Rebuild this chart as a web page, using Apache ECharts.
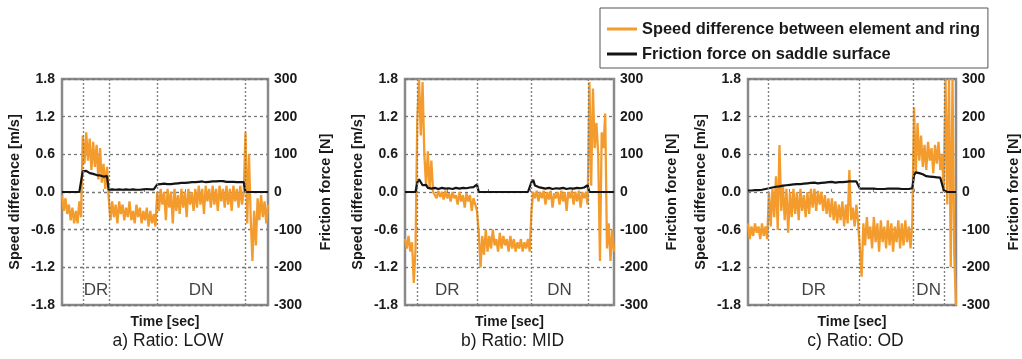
<!DOCTYPE html>
<html>
<head>
<meta charset="utf-8">
<script src="https://cdn.jsdelivr.net/npm/echarts@6/dist/echarts.min.js"></script>
<style>html,body{margin:0;padding:0;background:#fff}#chart{width:1022px;height:359px}</style>
</head>
<body>
<div id="chart"></div>
<script>
// ---------------- DATA ----------------
const seriesNames = ['Speed difference between element and ring', 'Friction force on saddle surface'];
const panelCaptions = ['a) Ratio: LOW', 'b) Ratio: MID', 'c) Ratio: OD'];
const phaseNames = ['DR', 'DN'];
const speedRange = [-1.8, 1.8, 0.6];     // m/s  (min, max, step)
const forceRange = [-300, 300, 100];     // N    (min, max, step)
const timeRange = [0, 119];              // sample index
const phaseLabelLevel = -1.57;           // m/s

// speed difference [m/s], one value per sample
const speedLow = [
 -0.05,-0.3,-0.1,-0.35,-0.2,-0.45,-0.25,-0.5,-0.3,-0.5,-0.15,-0.4,
 0.9,0.45,0.95,0.5,0.85,0.35,0.8,0.4,0.75,0.2,0.7,0.15,0.45,0.05,0.4,
 -0.1,-0.45,-0.15,-0.4,-0.2,-0.5,-0.15,-0.35,-0.2,-0.45,-0.25,-0.4,-0.15,-0.45,-0.3,-0.5,-0.2,-0.4,-0.25,-0.5,-0.3,-0.45,-0.25,-0.55,-0.3,-0.5,-0.35,-0.55,
 0.0,-0.3,0.05,-0.2,0.0,-0.45,0.05,-0.25,0.0,-0.5,0.05,-0.3,-0.05,-0.35,0.05,-0.25,0.0,-0.4,0.05,-0.2,0.0,-0.3,0.05,-0.25,0.1,-0.2,0.05,-0.35,0.1,-0.15,
 0.05,-0.25,0.1,-0.2,0.05,-0.3,0.1,-0.15,0.05,-0.25,0.1,-0.2,0.05,-0.3,0.1,-0.15,0.05,-0.25,0.1,-0.2,0.0,
 0.95,-0.5,0.6,-0.4,-1.1,-0.3,-0.85,-0.1,-0.45,-0.05,-0.4,-0.15,-0.5,-0.2
];
const speedMid = [
 -0.75,-0.9,-0.7,-0.95,-0.8,-1.45,-0.9,1.15,1.8,0.9,1.75,0.6,0.1,0.65,0.05,0.5,0.0,
 0.0,-0.1,0.02,-0.08,0.0,-0.12,0.02,-0.1,-0.02,-0.15,0.0,-0.1,-0.05,-0.2,0.0,-0.15,-0.05,-0.25,-0.02,-0.15,-0.05,-0.3,-0.1,-0.2,-0.3,
 -0.65,-1.2,-0.7,-1.0,-0.6,-0.95,-0.7,-0.9,-0.6,-0.85,-0.75,-0.95,-0.65,-0.9,-0.7,-0.85,-0.75,-0.95,-0.7,-0.9,-0.75,-0.95,-0.8,-0.9,-0.75,-0.95,-0.8,-0.9,-0.75,-0.95,
 -0.3,0.0,-0.1,0.02,-0.15,0.0,-0.1,0.02,-0.2,0.0,-0.12,0.02,-0.25,-0.02,-0.1,0.0,-0.2,0.02,-0.15,0.0,-0.3,0.0,-0.1,0.02,-0.2,0.0,-0.15,0.02,-0.25,0.0,-0.1,0.0,-0.2,
 1.75,0.1,1.65,0.7,1.1,0.6,-1.1,0.95,0.7,1.25,-0.9,-0.5,-1.1,-0.6,-0.95
];
const speedOd = [
 -0.5,-0.75,-0.55,-0.7,-0.5,-0.65,-0.55,-0.75,-0.5,-0.7,-0.55,-0.75,
 0.0,-0.55,0.05,-0.4,0.25,-0.6,0.75,-0.3,0.1,-0.45,0.05,-0.65,0.0,-0.4,0.05,-0.35,0.0,-0.45,0.05,-0.3,-0.05,-0.4,0.0,-0.35,0.05,-0.25,0.05,-0.3,
 0.02,-0.2,0.0,-0.3,-0.05,-0.35,-0.1,-0.4,-0.1,-0.45,-0.15,-0.5,-0.2,-0.45,-0.15,-0.55,-0.2,-0.5,0.35,-0.45,-0.25,-0.55,-0.2,-0.5,
 -0.9,-1.35,-0.5,-0.85,-0.4,-0.75,-0.55,-0.9,-0.4,-0.8,-0.5,-0.95,-0.45,-0.8,-0.55,-0.9,-0.45,-0.85,-0.5,-0.95,-0.55,-0.8,-0.45,-0.9,-0.5,-0.85,-0.45,-0.8,-0.55,-0.9,-0.5,
 1.35,0.3,1.1,0.5,0.9,0.4,0.75,0.35,0.8,0.5,0.7,0.3,0.75,0.45,0.8,0.35,0.6,
 0.0,1.8,-0.2,1.8,-1.2,1.8,-1.0,-1.8
];

// friction force [N], one value per sample
const frictionLow = [
 0,0,0,0,0,0,0,0,0,0,0,0,
 55,50,56,52,50,53,48,50,45,47,44,46,41,43,42,
 6,4,7,5,6,5,7,4,6,5,7,5,6,6,7,5,6,7,6,5,7,6,8,6,7,8,7,8,
 20,18,21,19,22,20,21,22,21,23,22,24,23,22,24,25,24,26,25,24,26,27,26,25,27,26,28,27,26,28,
 27,29,28,27,28,30,29,28,29,28,27,28,27,26,27,28,26,27,26,25,26,
 0,0,0,0,0,0,0,0,0,0,0,0,0,0
];
const frictionMid = [
 0,0,0,0,0,0,0,
 25,34,26,18,13,19,11,16,9,14,11,16,8,13,11,15,9,12,10,14,8,13,11,15,9,12,11,14,10,13,12,16,13,18,20,
 0,0,0,0,0,0,0,0,0,0,0,0,0,0,0,0,0,0,0,0,0,0,0,0,0,0,0,0,0,0,
 26,32,17,22,13,18,11,15,9,14,11,16,8,13,10,15,9,12,11,14,8,13,10,15,9,12,11,14,10,13,12,16,18,
 0,0,0,0,0,0,0,0,0,0,0,0,0,0,0
];
const frictionOd = [
 4,5,4,5,5,6,5,6,6,7,8,9,
 10,13,12,15,14,17,15,18,17,19,18,20,19,21,20,22,21,22,21,23,22,24,23,22,24,23,25,24,23,25,
 24,26,25,24,26,25,27,26,25,27,26,27,26,28,27,26,28,27,28,27,28,26,
 9,8,9,8,9,8,9,8,9,9,8,9,8,9,8,9,9,8,9,8,9,8,9,9,8,9,8,9,8,9,10,
 45,52,55,50,53,47,45,42,40,41,38,40,37,39,36,38,35,
 5,0,0,0,0,0,0,0
];

// phase boundaries (sample index)
const boundariesLow = [12.1, 27.1, 54.9, 105.7];
const boundariesMid = [6.7, 41.4, 71.6, 104.4];
const boundariesOd = [11.4, 63.9, 94.7, 112.0];

// ---------------- CHART ----------------
const FONT = '"Liberation Sans", Arial, Helvetica, sans-serif';
const ORANGE = '#F39C2D';
const BLACK = '#141414';
const TEXT = '#1a1a1a';

const panels = [
  {speed: speedLow, force: frictionLow, bounds: boundariesLow, caption: panelCaptions[0], left: 62, width: 206},
  {speed: speedMid, force: frictionMid, bounds: boundariesMid, caption: panelCaptions[1], left: 405, width: 209},
  {speed: speedOd, force: frictionOd, bounds: boundariesOd, caption: panelCaptions[2], left: 748, width: 209}
];
const TOP = 79, HEIGHT = 226;

const grid = [], xAxis = [], yAxis = [], series = [], graphic = [];

panels.forEach((p, i) => {
  grid.push({left: p.left, top: TOP, width: p.width, height: HEIGHT, show: true,
    borderColor: '#8a8a8a', borderWidth: 2.5, backgroundColor: 'rgba(0,0,0,0)', containLabel: false});
  xAxis.push({gridIndex: i, type: 'value', min: timeRange[0], max: timeRange[1],
    interval: (timeRange[1] - timeRange[0]) / 5,
    name: 'Time [sec]', nameLocation: 'middle', nameGap: 10,
    nameTextStyle: {fontFamily: FONT, fontSize: 14, fontWeight: 'bold', color: TEXT},
    axisLine: {show: false}, axisLabel: {show: false},
    axisTick: {show: true, inside: true, length: 3, lineStyle: {color: '#888', width: 1}},
    splitLine: {show: false}});
  yAxis.push({gridIndex: i, type: 'value', position: 'left',
    min: speedRange[0], max: speedRange[1], interval: speedRange[2],
    name: 'Speed difference [m/s]', nameLocation: 'middle', nameRotate: 90, nameGap: 40,
    nameTextStyle: {fontFamily: FONT, fontSize: 14.5, fontWeight: 'bold', color: TEXT},
    axisLine: {show: false}, axisTick: {show: false},
    axisLabel: {fontFamily: FONT, fontSize: 14, fontWeight: 'bold', color: TEXT, margin: 7,
      formatter: v => (Math.abs(v) < 1e-9 ? 0 : v).toFixed(1)},
    splitLine: {show: true, lineStyle: {color: '#777', type: [3, 3], width: 1.3}}});
  yAxis.push({gridIndex: i, type: 'value', position: 'right',
    min: forceRange[0], max: forceRange[1], interval: forceRange[2],
    name: 'Friction force [N]', nameLocation: 'middle', nameRotate: 90, nameGap: 50,
    nameTextStyle: {fontFamily: FONT, fontSize: 14.5, fontWeight: 'bold', color: TEXT},
    axisLine: {show: false}, axisTick: {show: false},
    axisLabel: {fontFamily: FONT, fontSize: 14, fontWeight: 'bold', color: TEXT, margin: 6,
      formatter: v => String(Math.round(v))},
    splitLine: {show: false}});

  // phase labels + boundaries
  const b = p.bounds;
  series.push({type: 'scatter', xAxisIndex: i, yAxisIndex: 2 * i, symbolSize: 0, silent: true, z: 1,
    data: [[(b[0] + b[1]) / 2, phaseLabelLevel, phaseNames[0]], [(b[2] + b[3]) / 2, phaseLabelLevel, phaseNames[1]]],
    label: {show: true, position: 'inside', formatter: d => d.data[2],
      fontFamily: FONT, fontSize: 17, color: '#111'},
    markLine: {silent: true, symbol: 'none', animation: false,
      label: {show: false}, lineStyle: {color: '#808080', type: [2, 2], width: 1.4},
      data: b.map(v => ({xAxis: v}))}});
  series.push({type: 'line', name: seriesNames[0], xAxisIndex: i, yAxisIndex: 2 * i, z: 2,
    data: p.speed.map((v, k) => [k, v]), symbol: 'none', showSymbol: false,
    lineStyle: {color: ORANGE, width: 2.3}, itemStyle: {color: ORANGE}});
  series.push({type: 'line', name: seriesNames[1], xAxisIndex: i, yAxisIndex: 2 * i + 1, z: 3,
    data: p.force.map((v, k) => [k, v]), symbol: 'none', showSymbol: false,
    lineStyle: {color: BLACK, width: 2.2}, itemStyle: {color: BLACK}});

  graphic.push({type: 'text', x: p.left + p.width / 2 + 3, y: 341,
    style: {text: p.caption, fontFamily: FONT, fontSize: 17.5, fill: TEXT,
      textAlign: 'center', textVerticalAlign: 'middle'}});
});

const chart = echarts.init(document.getElementById('chart'), null, {renderer: 'canvas'});
chart.setOption({
  animation: false,
  backgroundColor: '#fff',
  grid, xAxis, yAxis, series, graphic,
  legend: {
    data: [{name: seriesNames[0], icon: 'rect', itemStyle: {color: ORANGE}},
           {name: seriesNames[1], icon: 'rect', itemStyle: {color: BLACK}}],
    orient: 'vertical', left: 600, top: 8,
    backgroundColor: '#fff', borderColor: '#555', borderWidth: 1, borderRadius: 0,
    padding: [13, 8, 6, 7], itemWidth: 30, itemHeight: 3, itemGap: 9,
    textStyle: {fontFamily: FONT, fontSize: 16.4, fontWeight: 'bold', color: TEXT}
  }
});
</script>
</body>
</html>
